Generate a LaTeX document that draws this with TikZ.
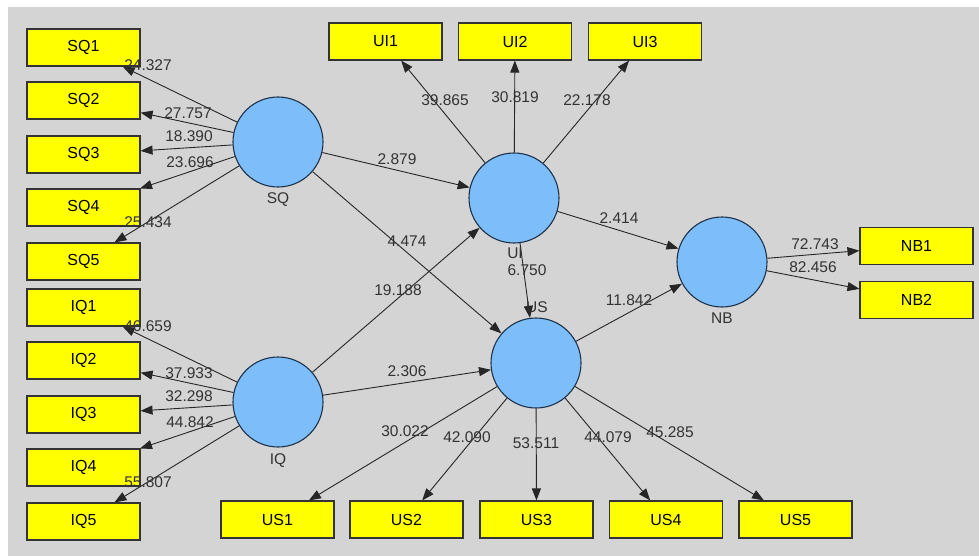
\documentclass[tikz,border=0pt]{standalone}
\usepackage{fontspec}
\setmainfont{Liberation Sans}
\usetikzlibrary{arrows.meta}
\definecolor{plsgray}{RGB}{212,212,212}
\definecolor{plsblue}{RGB}{125,190,250}
\definecolor{plsedge}{RGB}{30,50,75}
\definecolor{plsyellow}{RGB}{255,255,0}

\begin{document}
\begin{tikzpicture}[x=1pt,y=-1pt,font=\fontsize{15.5}{18}\selectfont,
ind/.style={draw=black!80,line width=1.1pt,fill=plsyellow,minimum width=113pt,minimum height=37pt,inner sep=0pt,font=\fontsize{16}{18}\selectfont},
lat/.style={circle,draw=plsedge,line width=1.1pt,fill=plsblue,minimum size=90pt,inner sep=0pt},
load/.style={-{Triangle[length=12pt,width=9pt]},line width=.9pt,draw=black!85},
val/.style={inner sep=0pt,text=black!80},
latname/.style={inner sep=0pt,text=black!80}]

\useasboundingbox(0,0)rectangle(979,556);
\fill[plsgray](8,7)rectangle(979,556);

% latent variables
\node[lat](SQ)at(278,142){};
\node[lat](IQ)at(278,402){};
\node[lat](UI)at(514,198){};
\node[lat](US)at(536,363){};
\node[lat](NB)at(722,262){};

% indicators
\foreach \i/\yy/\v/\lx/\ly in {1/47.5/24.327/148/65,2/100.5/27.757/188/113,3/154.5/18.390/189/136,4/207.5/23.696/190/162,5/261.5/25.434/148/222}{
 \node[ind](SQ\i)at(83.5,\yy){SQ\i};
 \draw[load](SQ)--(SQ\i);
 \node[val](vSQ\i)at(\lx,\ly){\v};
}
\foreach \i/\yy/\v/\lx/\ly in {1/307.5/46.659/148/326,2/360.5/37.933/189/373,3/414.5/32.298/189/396,4/467.5/44.842/190/422,5/521.5/55.807/148/482}{
 \node[ind](IQ\i)at(83.5,\yy){IQ\i};
 \draw[load](IQ)--(IQ\i);
 \node[val](vIQ\i)at(\lx,\ly){\v};
}
\foreach \i/\xx/\v/\lx/\ly in {1/385.5/39.865/445/100,2/515/30.819/515/97,3/645/22.178/587/100}{
 \node[ind](UI\i)at(\xx,41.5){UI\i};
 \draw[load](UI)--(UI\i);
 \node[val](vUI\i)at(\lx,\ly){\v};
}
\foreach \i/\xx/\v/\lx/\ly in {1/277.5/30.022/405/431,2/406.5/42.090/467/437,3/536.5/53.511/536/443,4/666/44.079/608/437,5/795.5/45.285/670/432}{
 \node[ind](US\i)at(\xx,519.5){US\i};
 \draw[load](US)--(US\i);
 \node[val](vUS\i)at(\lx,\ly){\v};
}
\foreach \i/\yy/\v/\lx/\ly in {1/246/72.743/815/244,2/300/82.456/813/267}{
 \node[ind](NB\i)at(916.5,\yy){NB\i};
 \draw[load](NB)--(NB\i);
 \node[val](vNB\i)at(\lx,\ly){\v};
}

% structural paths
\foreach \a/\b/\v/\lx/\ly in {SQ/UI/2.879/397/159,SQ/US/4.474/407/241,IQ/UI/19.188/398/290,IQ/US/2.306/407/371,UI/NB/2.414/619/218,UI/US/6.750/527/270,US/NB/11.842/629/300}{
 \draw[load](\a)--(\b);
 \node[val](v\a\b)at(\lx,\ly){\v};
}

% names under the circles
\node[latname](nSQ)at(278,200){SQ};
\node[latname](nIQ)at(278,461){IQ};
\node[latname](nUI)at(515,253){UI};
\node[latname](nUS)at(537,307){US};
\node[latname](nNB)at(722,318){NB};
\end{tikzpicture}
\end{document}
